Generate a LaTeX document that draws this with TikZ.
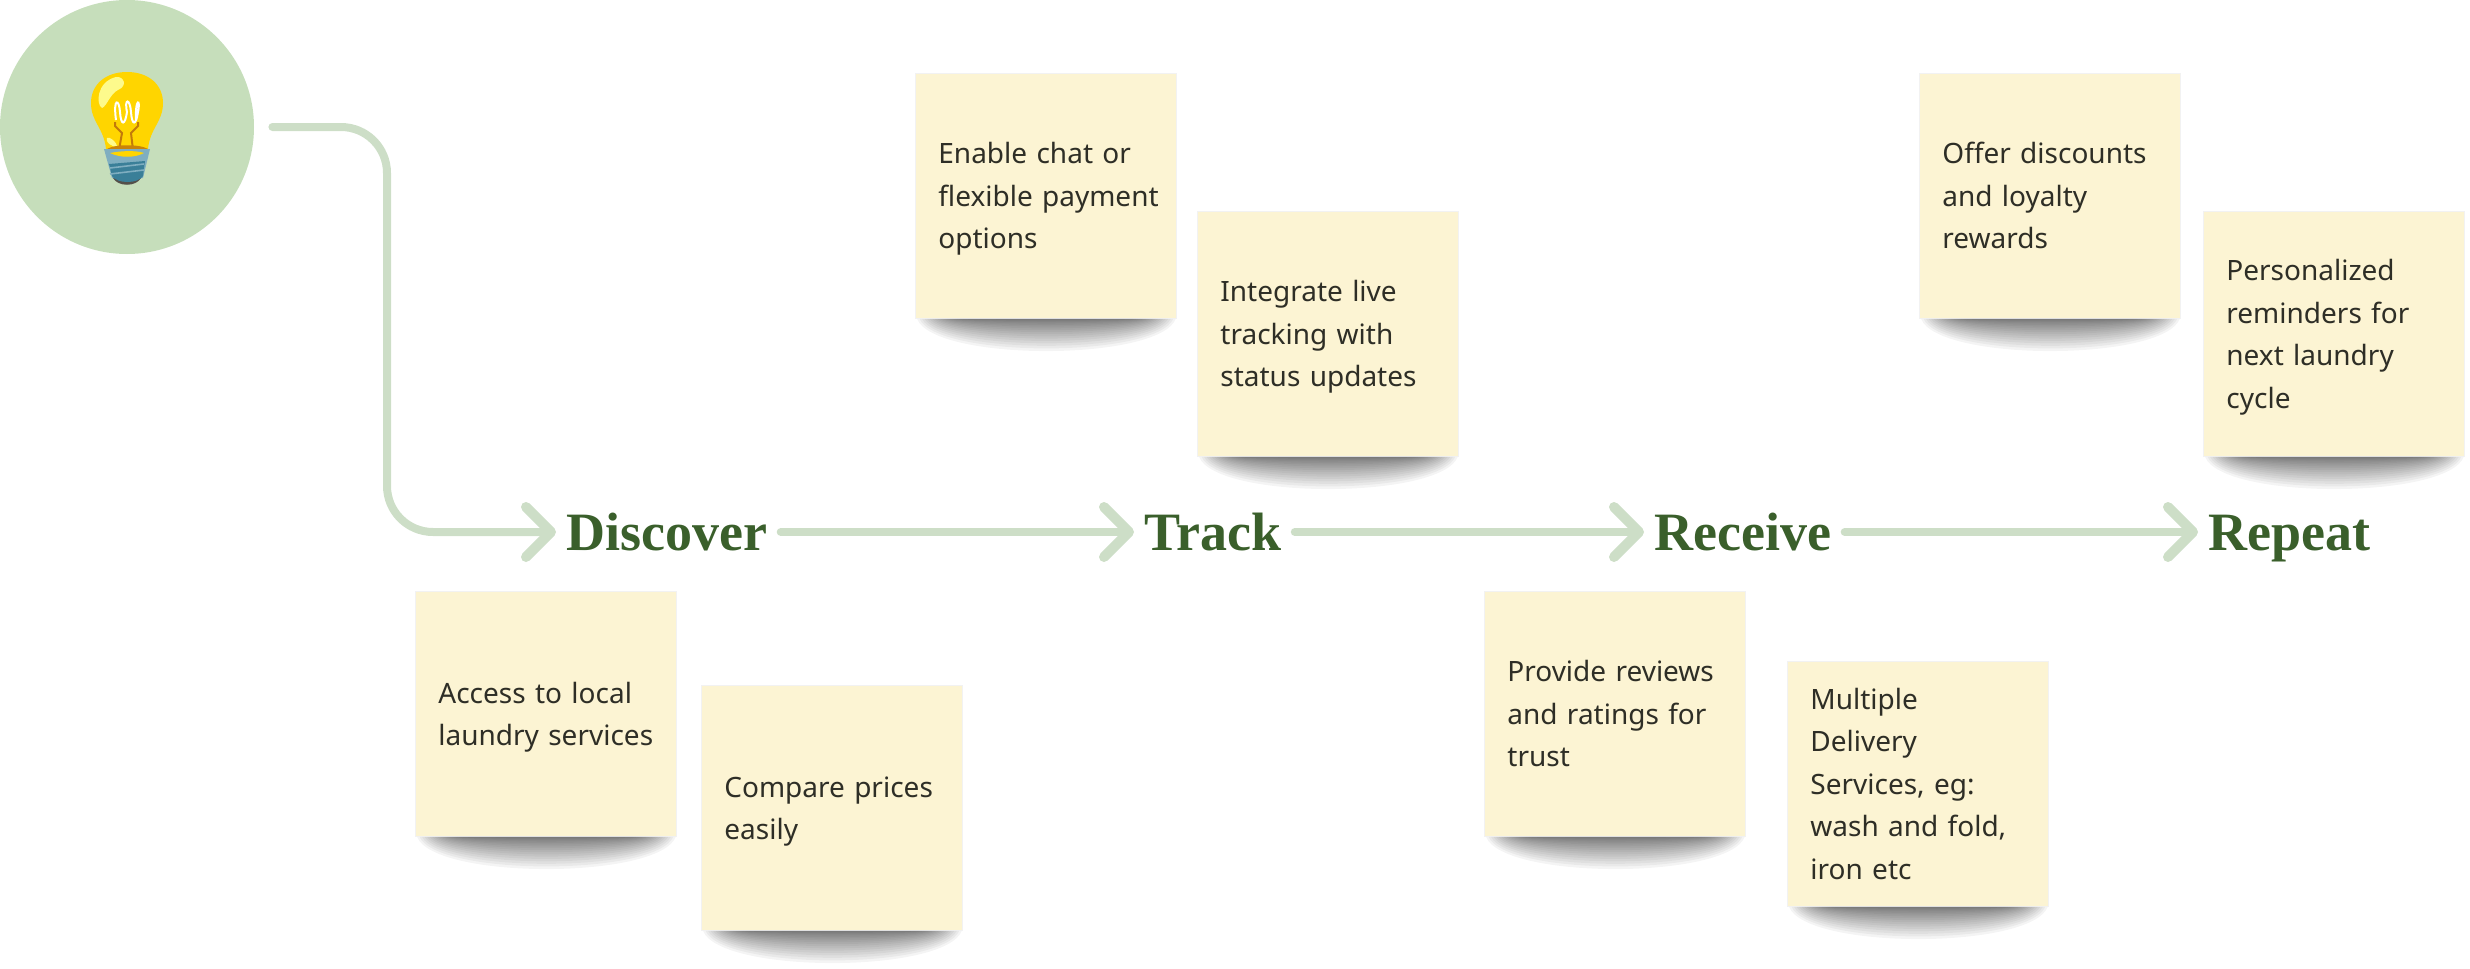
\documentclass[tikz,border=0pt]{standalone}
\usepackage{fontspec}
\setmainfont{Noto Sans}
\newfontfamily\stagefont{Liberation Serif}
\usetikzlibrary{arrows.meta,calc}

\definecolor{circlegreen}{HTML}{C6DEBB}
\definecolor{flowgreen}{HTML}{CDDEC7}
\definecolor{stagegreen}{HTML}{3A5F2B}
\definecolor{notefill}{HTML}{FCF4D3}
\definecolor{notetext}{HTML}{2E2E26}
\definecolor{glassyellow}{HTML}{FFD500}
\definecolor{glasslight}{HTML}{FDFA8C}
\definecolor{wireorange}{HTML}{C27A0A}
\definecolor{baselight}{HTML}{7FAEC0}
\definecolor{basedark}{HTML}{3A7F98}
\definecolor{basecap}{HTML}{54504A}

\tikzset{
    flow/.style={line width=4pt, draw=flowgreen, line cap=round, line join=round, shorten >=-1.5pt,
        -{Straight Barb[length=12.5pt, width=25pt, line width=5pt, round]}},
    stage/.style={anchor=west, inner xsep=6.5pt, inner ysep=0pt, text=stagegreen,
        font=\stagefont\fontsize{27}{27}\selectfont\bfseries, text height=18pt, text depth=0pt},
    note/.style={anchor=north west, fill=notefill, text=notetext, align=left,
        minimum width=130pt, minimum height=122pt, text width=108pt, inner sep=0pt,
        font=\fontsize{14}{21.25}\selectfont,
        execute at begin node={\rule{0pt}{13.5pt}},
        execute at end node={\rule[-3.5pt]{0pt}{3.5pt}},
        preaction={draw=black, opacity=.05, line width=1pt}}
}

% curved shadow under one note
\newcommand{\noteshadow}[1]{
    \foreach \i [evaluate=\i as \dep using {43*(1-\i/18)^1.5}] in {0,...,17}{
        \fill[black, opacity=.045]
            ($(#1.south west)+(1+2.5*\i,0)$)
            .. controls ($(#1.south west)+(18+3*\i,\dep)$) and ($(#1.south east)+(-18-3*\i,\dep)$)
            .. ($(#1.south east)+(-1-2.5*\i,0)$) -- cycle;
    }
}

\begin{document}
\begin{tikzpicture}[x=0.5pt, y=-0.5pt]
    \useasboundingbox (0,0) rectangle (2470,969);

    % The circle with the bulb
    \node[circle, fill=circlegreen, minimum size=127pt, inner sep=0pt] (idea) at (127,127) {};

    % Glass
    \fill[glassyellow] (127,72) .. controls (149,72) and (163,85) .. (163,103)
        .. controls (163,122) and (150,128) .. (148,149) -- (106,149)
        .. controls (104,128) and (91,122) .. (91,103)
        .. controls (91,85) and (105,72) .. (127,72) -- cycle;
    \fill[glasslight] (116,77) .. controls (124,76) and (128,86) .. (118,90)
        .. controls (110,94) and (107,106) .. (102,108)
        .. controls (96,105) and (96,82) .. (116,77) -- cycle;
    \fill[glasslight] (107,138) .. controls (110,136) and (117,143) .. (117,146)
        .. controls (114,149) and (104,141) .. (107,138) -- cycle;
    % Filament
    \draw[white, line width=1pt] (116,120) .. controls (113,98) and (119,98) .. (120,112)
        .. controls (121,126) and (125,126) .. (127,112)
        .. controls (124,98) and (130,98) .. (131,112)
        .. controls (132,126) and (136,126) .. (138,112)
        .. controls (141,98) and (135,98) .. (136,120);
    \draw[wireorange, line width=1pt] (115,122) -- (115,126) -- (122,133) -- (119,150);
    \draw[wireorange, line width=1pt] (138,122) -- (138,126) -- (131,133) -- (133,150);
    \fill[wireorange!90!glassyellow] (107,149) .. controls (115,144) and (140,144) .. (148,149) -- cycle;
    % Screw base
    \fill[baselight] (104,149) -- (150,149) -- (143,178) -- (112,178) -- cycle;
    \fill[basecap] (113,178) -- (141,178) .. controls (136,187) and (118,187) .. (113,178) -- cycle;
    \fill[basedark] (109,164) -- (145,161) -- (143,176) .. controls (138,184) and (117,184) .. (112,176) -- cycle;
    \fill[glassyellow] (110,153) .. controls (120,158) and (135,158) .. (144,153)
        .. controls (135,150) and (120,151) .. (110,153) -- cycle;
    \foreach \yy in {166,172}{
        \draw[baselight, line width=.8pt] (110,\yy+2) -- (144,\yy-2);
    }

    % Stages
    \node[stage] (discover) at (553,532) {Discover};
    \node[stage] (track) at (1131,532) {Track};
    \node[stage] (receive) at (1641,532) {Receive};
    \node[stage] (repeat) at (2195,532) {Repeat};

    % Connectors
    \coordinate (bend) at (387,127);
    \draw[flow, rounded corners=23pt, shorten <=9pt] (idea.east) -- (bend) |- (discover.west);
    \draw[flow] (discover) -- (track);
    \draw[flow] (track) -- (receive);
    \draw[flow] (receive) -- (repeat);

    % Notes
    \node[note] (access) at (416,592) {Access to local\\laundry services};
    \node[note] (compare) at (702,686) {Compare prices\\easily};
    \node[note] (chat) at (916,74) {Enable chat or\\\mbox{flexible payment}\\options};
    \node[note] (live) at (1198,212) {Integrate live\\tracking with\\status updates};
    \node[note] (reviews) at (1485,592) {Provide reviews\\and ratings for\\trust};
    \node[note] (services) at (1788,662) {Multiple\\Delivery\\Services, eg:\\wash and fold,\\iron etc};
    \node[note] (offer) at (1920,74) {Offer discounts\\and loyalty\\rewards};
    \node[note] (remind) at (2204,212) {Personalized\\reminders for\\next laundry\\cycle};

    \foreach \n in {access,compare,chat,live,reviews,services,offer,remind}{
        \noteshadow{\n}
    }
\end{tikzpicture}
\end{document}
